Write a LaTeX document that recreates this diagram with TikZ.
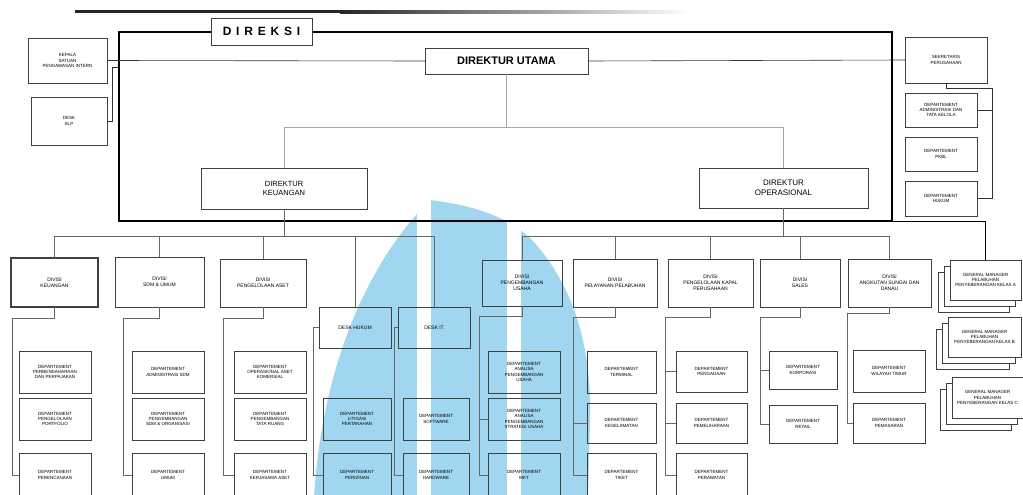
\documentclass[tikz,border=0pt]{standalone}
\usepackage{fontspec}
\setmainfont{Liberation Sans}
\newfontfamily\spacedfont[LetterSpace=40]{Liberation Sans}
\usetikzlibrary{calc,shadows}
\definecolor{markblue}{RGB}{160,214,240}
\tikzset{
  box/.style={draw=black!75, line width=0.8pt, align=center, inner sep=1pt, outer sep=0pt,
    font=\fontsize{4.5}{5.3}\selectfont},
  divbox/.style={box, font=\fontsize{5}{5.9}\selectfont},
  wire/.style={draw=black!60, line width=0.6pt},
  stackbox/.style={box, fill=white,
    double copy shadow={shadow xshift=-6pt, shadow yshift=-6pt, draw=black!75, line width=0.8pt, fill=white}},
  wh/.style 2 args={minimum width=#1pt, minimum height=#2pt}
}
\begin{document}
\begin{tikzpicture}[x=1pt,y=-1pt]
\clip (0,0) rectangle (1023,495);
% watermark
\fill[markblue] (314,497) .. controls (322,370) and (365,265) .. (430,200)
  .. controls (470,205) and (505,215) .. (530,238)
  .. controls (575,285) and (592,350) .. (590,420) -- (588,497) -- cycle;
\fill[white] (417,195) rectangle (431,497);
\fill[white] (507,195) rectangle (521,497);
% top rule
\fill[black!85] (75,10.5) rectangle (340,13.5);
\fill[left color=black!85, right color=white] (340,10.5) rectangle (690,13.5);

% board
\node[draw=black, line width=1.2pt, wh={773}{189}] (frm) at (505.5,126.5) {};
\node[box, fill=white, wh={101}{27}, font=\spacedfont\fontsize{12}{12}\bfseries] (direksi) at (261.5,31.5) {DIREKSI};
\node[box, fill=white, wh={163}{26}, font=\fontsize{11}{12}\bfseries] (dirut) at (506.5,61) {DIREKTUR UTAMA};
\node[box, wh={166}{41}, font=\fontsize{7.5}{9}\selectfont] (dirkeu) at (284,188.5) {DIREKTUR\\KEUANGAN};
\node[box, wh={169}{40}, font=\fontsize{8}{9.5}\selectfont] (dirops) at (783.5,188) {DIREKTUR\\OPERASIONAL};

% left staff
\node[box, wh={79}{45}] (kspi) at (67.5,60.5) {KEPALA\\SATUAN\\PENGAWASAN INTERN};
\node[box, wh={76}{48}] (desk) at (69,121) {DESK\\SLP};

% right staff
\node[box, wh={82}{46}] (sekper) at (946,60) {SEKRETARIS\\PERUSAHAAN};
\node[box, wh={72}{34}] (sp1) at (941,110) {DEPARTEMENT\\ADMINISTRASI DAN\\TATA KELOLA};
\node[box, wh={72}{34}] (sp2) at (941,154) {DEPARTEMENT\\PKBL};
\node[box, wh={72}{35}] (sp3) at (941,198.5) {DEPARTEMENT\\HUKUM};

% divisions
\node[divbox, line width=1.3pt, wh={87}{49}] (dv1) at (54.5,282.5) {DIVISI\\KEUANGAN};
\node[divbox, wh={89}{50}] (dv2) at (159.5,282) {DIVISI\\SDM \& UMUM};
\node[divbox, wh={86}{48}] (dv3) at (263,283) {DIVISI\\PENGELOLAAN ASET};
\node[divbox, wh={72}{41}] (dv4) at (355,327.5) {DESK HUKUM};
\node[divbox, wh={72}{41}] (dv5) at (434,327.5) {DESK IT};
\node[divbox, wh={80}{46}] (dv6) at (522,283) {DIVISI\\PENGEMBANGAN\\USAHA};
\node[divbox, wh={84}{48}] (dv7) at (615,283) {DIVISI\\PELAYANAN PELABUHAN};
\node[divbox, wh={85}{48}] (dv8) at (710.5,283) {DIVISI\\PENGELOLAAN KAPAL\\PERUSAHAAN};
\node[divbox, wh={80}{48}] (dv9) at (800,283) {DIVISI\\SALES};
\node[divbox, wh={83}{48}] (dv10) at (889.5,283) {DIVISI\\ANGKUTAN SUNGAI DAN\\DANAU};

% departments
\node[box, wh={72}{42}] (d11) at (55,372) {DEPARTEMENT\\PERBENDAHARAAN\\DAN PERPAJAKAN};
\node[box, wh={72}{42}] (d12) at (55,419) {DEPARTEMENT\\PENGELOLAAN\\PORTFOLIO};
\node[box, wh={72}{44}] (d13) at (55,475) {DEPARTEMENT\\PERENCANAAN};
\node[box, wh={72}{42}] (d21) at (168,372) {DEPARTEMENT\\ADMINISTRASI SDM};
\node[box, wh={72}{42}] (d22) at (168,419) {DEPARTEMENT\\PENGEMBANGAN\\SDM \& ORGANISASI};
\node[box, wh={72}{44}] (d23) at (168,475) {DEPARTEMENT\\UMUM};
\node[box, wh={72}{42}] (d31) at (270,372) {DEPARTEMENT\\OPERASIONAL ASET\\KOMERSIAL};
\node[box, wh={72}{42}] (d32) at (270,419) {DEPARTEMENT\\PENGEMBANGAN\\TATA RUANG};
\node[box, wh={72}{44}] (d33) at (270,475) {DEPARTEMENT\\KERJASAMA ASET};
\node[box, wh={68}{42}] (d41) at (357,419) {DEPARTEMENT\\LITIGASI\\PERTANAHAN};
\node[box, wh={68}{44}] (d42) at (357,475) {DEPARTEMENT\\PERIZINAN};
\node[box, wh={66}{42}] (d51) at (436,419) {DEPARTEMENT\\SOFTWARE};
\node[box, wh={66}{44}] (d52) at (436,475) {DEPARTEMENT\\HARDWARE};
\node[box, wh={72}{42}] (d61) at (524,372) {DEPARTEMENT\\ANALISA\\PENGEMBANGAN\\USAHA};
\node[box, wh={72}{42}] (d62) at (524,419) {DEPARTEMENT\\ANALISA\\PENGEMBANGAN\\STRATEGI USAHA};
\node[box, wh={72}{44}] (d63) at (524,475) {DEPARTEMENT\\MKT};
\node[box, wh={69}{42}] (d71) at (621.5,372) {DEPARTEMENT\\TERMINAL};
\node[box, wh={69}{40}] (d72) at (621.5,423) {DEPARTEMENT\\KESELAMATAN};
\node[box, wh={69}{44}] (d73) at (621.5,475) {DEPARTEMENT\\TIKET};
\node[box, wh={71}{41}] (d81) at (711.5,371.5) {DEPARTEMENT\\PENGADAAN};
\node[box, wh={71}{40}] (d82) at (711.5,423) {DEPARTEMENT\\PEMELIHARAAN};
\node[box, wh={71}{44}] (d83) at (711.5,475) {DEPARTEMENT\\PERAWATAN};
\node[box, wh={68}{38}] (d91) at (803,370) {DEPARTEMENT\\KORPORASI};
\node[box, wh={68}{38}] (d92) at (803,424) {DEPARTEMENT\\RETAIL};
\node[box, wh={72}{42}] (d101) at (889,371) {DEPARTEMENT\\WILAYAH TIMUR};
\node[box, wh={72}{40}] (d102) at (889,423) {DEPARTEMENT\\PEMASARAN};

% branch managers
\node[stackbox, wh={71}{40}] (gma) at (985.5,280) {GENERAL MANAGER\\PELABUHAN\\PENYEBERANGAN KELAS A};
\node[stackbox, wh={73}{40}] (gmb) at (984.5,337) {GENERAL MANAGER\\PELABUHAN\\PENYEBERANGAN KELAS B};
\node[stackbox, wh={71}{41}] (gmc) at (987.5,397.5) {GENERAL MANAGER\\PELABUHAN\\PENYEBERANGAN KELAS C};

% board lines
\draw[wire, draw=black!80] (kspi.east) -- (dirut.west);
\draw[wire, draw=black!80] (dirut.east) -- (sekper.west);
\draw[wire, draw=black!80] (desk.east) -- ++(5,0) |- ($(frm.north west)+(0,36)$);
\draw[wire, draw=black!35] (dirut.south) -- ++(0,53) coordinate (dj);
\draw[wire, draw=black!35] (dirkeu.north) |- (dirops.north |- dj) -- (dirops.north);
\draw[wire, draw=black!80] (sekper.south) -- ++(0,5) -| ($(sp3.east)+(15,0)$) -- (sp3.east);
\draw[wire, draw=black!80] (sp1.east) -- ++(15,0);
\draw[line width=1.2pt] ($(frm.south east)+(-26,0)$) -| (gma.north);

% finance branch
\draw[wire] (dirkeu.south) -- ++(0,27) coordinate (kj);
\draw[wire] (dv1.north) |- (dv5.north |- kj) -- (dv5.north);
\draw[wire] (dv2.north) -- (dv2.north |- kj);
\draw[wire] (dv3.north) -- (dv3.north |- kj);
\draw[wire] (dv4.north) -- (dv4.north |- kj);

% operations branch
\draw[wire] (dirops.south) -- ++(0,28) coordinate (oj);
\draw[wire] (dv6.north) |- (dv10.north |- oj) -- (dv10.north);
\draw[wire] (dv7.north) -- (dv7.north |- oj);
\draw[wire] (dv8.north) -- (dv8.north |- oj);
\draw[wire] (dv9.north) -- (dv9.north |- oj);

% department lines
\draw[wire] (dv1.south) -- ++(0,11) -| ($(d13.west)+(-7,0)$) -- (d13.west);
\draw[wire] (dv2.south) -- ++(0,11) -| ($(d23.west)+(-9,0)$) -- (d23.west);
\draw[wire] (dv3.south) -- ++(0,11) -| ($(d33.west)+(-11,0)$) -- (d33.west);
\draw[wire] (dv4.west) -- ++(-6,0) |- (d42.west);
\draw[wire] (dv5.west) -- ++(-4,0) |- (d52.west);
\draw[wire] (dv6.south) -- ++(0,10) -| ($(d63.west)+(-9,0)$) -- (d63.west);
\draw[wire] (d62.west) -- ++(-9,0);
\draw[wire] (dv7.south) -- ++(0,10) -| ($(d73.west)+(-14,0)$) -- (d73.west);
\draw[wire] (d72.west) -- ++(-14,0);
\draw[wire] (dv8.south) -- ++(0,10) -| ($(d83.west)+(-11,0)$) -- (d83.west);
\draw[wire] (d82.west) -- ++(-11,0);
\draw[wire] (d81.west) -- ++(-11,0);
\draw[wire] (dv9.south) -- ++(0,10) -| ($(d92.west)+(-9,0)$) -- (d92.west);
\draw[wire] (d91.west) -- ++(-9,0);
\draw[wire] (dv10.south) -- ++(0,6) -| ($(d102.west)+(-6,0)$) -- (d102.west);
\end{tikzpicture}
\end{document}
